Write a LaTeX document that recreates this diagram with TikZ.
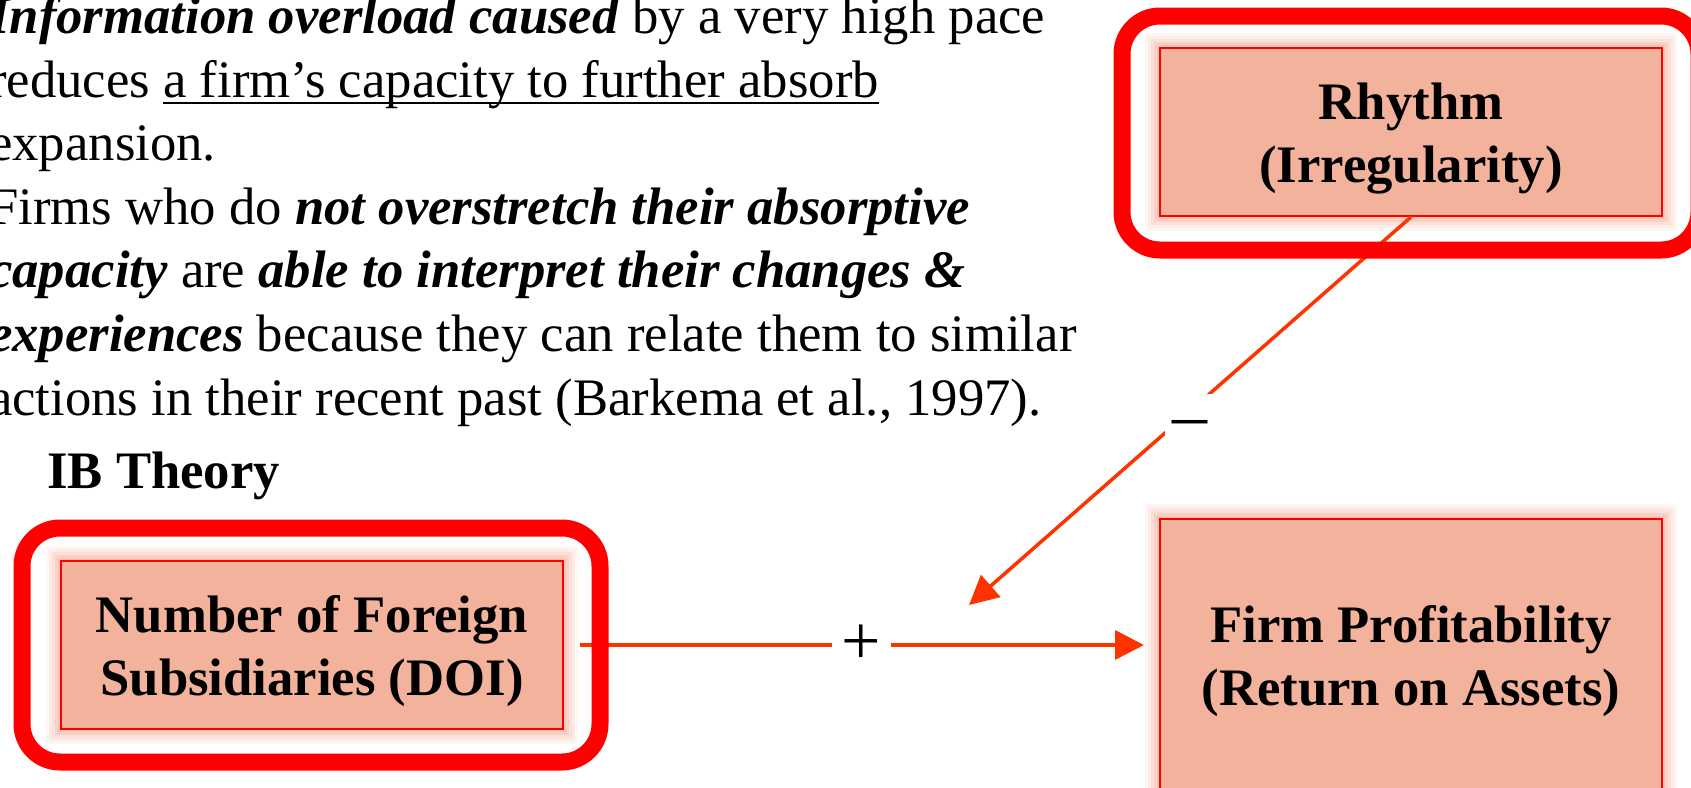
\documentclass[tikz,border=0pt]{standalone}
\usepackage{fontspec}
\setmainfont{Liberation Serif}
\usetikzlibrary{arrows.meta, calc}

\definecolor{boxfill}{RGB}{243,178,156}
\definecolor{effectred}{RGB}{255,51,0}

\newsavebox\ulinebox
\newcommand{\ulined}[1]{\sbox\ulinebox{#1}\rlap{\rule[-7pt]{\wd\ulinebox}{2pt}}\usebox\ulinebox}

\tikzset{
  varbox/.style={draw=red, line width=2pt, fill=boxfill, align=center, inner sep=0pt,
    minimum width=502pt, minimum height=168pt,
    font=\fontsize{52.7}{63}\selectfont\bfseries,
    preaction={draw=boxfill, line width=30pt, opacity=0.12},
    preaction={draw=boxfill, line width=24pt, opacity=0.15},
    preaction={draw=boxfill, line width=18pt, opacity=0.2},
    preaction={draw=boxfill, line width=12pt, opacity=0.3},
    preaction={draw=boxfill, line width=6pt, opacity=0.4}},
  boxtext/.style={align=center, inner sep=0pt, font=\fontsize{52.7}{63}\selectfont\bfseries},
  ringframe/.style={draw=red, line width=17pt, rounded corners=38pt},
  effect/.style={draw=effectred, line width=3.5pt, -{Triangle[length=29pt,width=29pt]}},
  signlabel/.style={fill=white, text=black, font=\fontsize{70}{70}\selectfont}
}

\begin{document}
\begin{tikzpicture}[x=1pt, y=-1pt]
\useasboundingbox (0,0) rectangle (1691,787);
\clip (0,0) rectangle (1691,787);

% text on the left
\node[anchor=base west, align=left, inner sep=0pt, font=\fontsize{52.7}{63.6}\selectfont] (ideas) at (-11,415)
  {\textbf{\textit{Information overload caused}} by a very high pace\\
   reduces \ulined{a firm’s capacity to further absorb}\\
   expansion.\\
   Firms who do \textbf{\textit{not overstretch their absorptive}}\\
   \textbf{\textit{capacity}} are \textbf{\textit{able to interpret their changes \&}}\\
   \textbf{\textit{experiences}} because they can relate them to similar\\
   actions in their recent past (Barkema et al., 1997).};
\node[anchor=base west, inner sep=0pt, font=\fontsize{52.7}{63}\selectfont\bfseries] (ibtheory) at (47,488) {IB Theory};

% variables
\node[varbox] (rhythm) at (1411,132) {};
\node[boxtext] (rhythmtext) at ([yshift=-7pt]rhythm.center) {Rhythm\\(Irregularity)};
\node[varbox] (doi) at (312,645) {};
\node[boxtext] (doitext) at ([yshift=-6pt]doi.center) {Number of Foreign\\Subsidiaries (DOI)};
\node[varbox, minimum height=284pt] (firm) at (1411,661) {Firm Profitability\\(Return on Assets)};

% effects
\coordinate (mod) at (969,605);
\draw[effect, shorten <=16pt, shorten >=15pt] (doi.east) -- node[signlabel, inner xsep=10pt] (plus) {+} (doi.east -| firm.west);
\draw[effect] (rhythm.south) -- node[signlabel, inner sep=0pt, inner xsep=8pt, text height=44pt, text depth=0pt, yshift=-5pt] (minus) {–} (mod);

% frames
\draw[ringframe] ($(rhythm.north west)+(-37,-31)$) rectangle ($(rhythm.south east)+(36,33)$);
\draw[ringframe] ($(doi.north west)+(-38,-32)$) rectangle ($(doi.south east)+(36,32)$);
\end{tikzpicture}
\end{document}
